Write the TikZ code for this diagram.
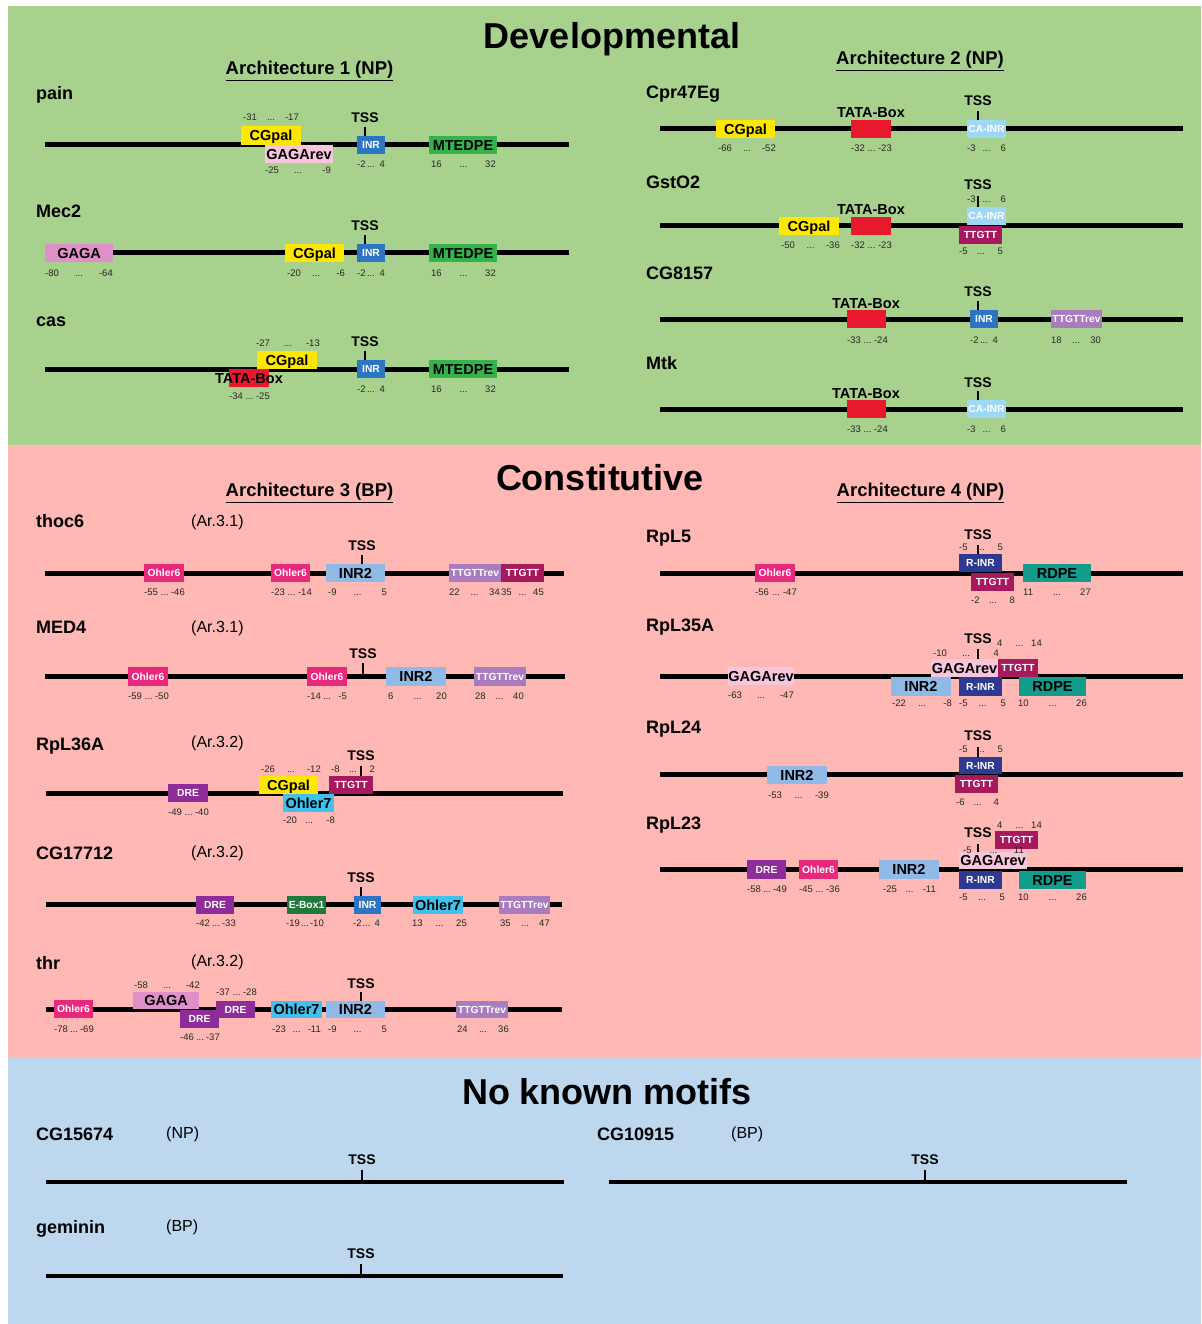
\documentclass[tikz,border=0pt]{standalone}
\usepackage{fontspec}
\setmainfont{Liberation Sans}
\definecolor{bggreen}{HTML}{A9D18E}
\definecolor{bgpink}{HTML}{FFB8B3}
\definecolor{bgblue}{HTML}{BDD7EE}
\definecolor{cgpal}{HTML}{FFE700}
\definecolor{gagarev}{HTML}{F8C6DC}
\definecolor{gaga}{HTML}{E090C8}
\definecolor{inr}{HTML}{2B75C2}
\definecolor{mtedpe}{HTML}{34B34A}
\definecolor{tata}{HTML}{E8192E}
\definecolor{cainr}{HTML}{9ED8F6}
\definecolor{ttgtt}{HTML}{A6195C}
\definecolor{ttgttrev}{HTML}{A97BBF}
\definecolor{ohler6}{HTML}{E8287C}
\definecolor{inr2}{HTML}{8EBAE5}
\definecolor{dre}{HTML}{8E2C9A}
\definecolor{ohler7}{HTML}{3FC3EE}
\definecolor{ebox}{HTML}{1F7A3C}
\definecolor{rinr}{HTML}{2E3991}
\definecolor{rdpe}{HTML}{119C8C}
\newcount\nc
\newcommand\mtf[7]{\global\advance\nc by 1\relax
  \node[mbox, fill=#1, minimum width={(#3-#2)*1pt}, minimum height={(#5-#4)*1pt}] (b\the\nc) at ({(#2+#3)/2},{(#4+#5)/2}) {};
  \node[#6] (t\the\nc) at (b\the\nc.center) {#7};}
\newcommand\rng[5]{\global\advance\nc by 1\relax
  \node[num, anchor=west] (la\the\nc) at (#1,#3) {#4};
  \node[num] (lb\the\nc) at ({(#1+#2)/2},#3) {...};
  \node[num, anchor=east] (lc\the\nc) at (#2,#3) {#5};}
\newcommand\tss[4]{\global\advance\nc by 1\relax
  \draw[tick] (#1,#3) -- (#1,#2);
  \node[tsslbl] (s\the\nc) at (#1,#4) {TSS};}
\newcommand\dna[3]{\draw[dnaline] (#1,#3) -- (#2,#3);}
\begin{document}
\begin{tikzpicture}[x=1pt,y=-1pt,
  gname/.style={font=\fontsize{18}{18}\selectfont\bfseries, anchor=west, inner sep=0pt, text height=13pt, text depth=0pt},
  arn/.style={font=\fontsize{16}{16}\selectfont, anchor=west, inner sep=0pt, text height=11.5pt, text depth=0pt},
  bigtitle/.style={font=\fontsize{36}{36}\selectfont\bfseries, inner sep=0pt, text height=26pt, text depth=0pt},
  archhead/.style={font=\fontsize{18.5}{18.5}\selectfont\bfseries, inner sep=0pt, text height=13.3pt, text depth=0pt},
  tsslbl/.style={font=\fontsize{14}{14}\selectfont\bfseries, inner sep=0pt, text height=10pt, text depth=0pt},
  num/.style={font=\fontsize{9.5}{9.5}\selectfont, text=black!85, inner sep=0pt, text height=6.8pt, text depth=0pt},
  big/.style={font=\fontsize{14.5}{14.5}\selectfont\bfseries, text=black, inner sep=0pt, text height=10.4pt, text depth=0pt},
  sml/.style={font=\fontsize{10.3}{10.3}\selectfont\bfseries, text=white, inner sep=0pt, text height=7.4pt, text depth=0pt},
  mbox/.style={inner sep=0pt, outer sep=0pt, draw=none},
  dnaline/.style={line width=5pt},
  tick/.style={line width=2pt}]
\useasboundingbox (0,0) rectangle (1201,1324);
\fill[white] (0,0) rectangle (1201,1324);
\fill[bggreen] (8,6) rectangle (1201,445);
\fill[bgpink] (8,445) rectangle (1201,1057);
\fill[bgblue] (8,1057) rectangle (1201,1324);

% ===== Developmental =====
\node[bigtitle] (devtitle) at (612,36) {Developmental};
\node[archhead] (arch1) at (309.5,68) {\underline{Architecture 1 (NP)}};
\node[archhead] (arch2) at (920,58) {\underline{Architecture 2 (NP)}};

% pain
\node[gname] (gpain) at (36,93) {pain};
\dna{45}{569}{145}
\mtf{cgpal}{241}{301}{126}{145}{big}{CGpal}
\mtf{gagarev}{265}{333}{145}{163}{big}{GAGArev}
\mtf{inr}{357}{385}{136}{154}{sml}{INR}
\mtf{mtedpe}{429}{497}{136}{154}{big}{MTEDPE}
\tss{365}{127}{136}{118}
\rng{243}{299}{117}{-31}{-17}
\rng{265}{331}{170}{-25}{-9}
\rng{357}{385}{164}{-2}{4}
\rng{431}{496}{164}{16}{32}

% Mec2
\node[gname] (gmec2) at (36,211) {Mec2};
\dna{45}{569}{253}
\mtf{gaga}{45}{113}{244}{262}{big}{GAGA}
\mtf{cgpal}{285}{344}{244}{262}{big}{CGpal}
\mtf{inr}{357}{385}{244}{262}{sml}{INR}
\mtf{mtedpe}{429}{497}{244}{262}{big}{MTEDPE}
\tss{365}{235}{244}{226}
\rng{45}{113}{273}{-80}{-64}
\rng{287}{345}{273}{-20}{-6}
\rng{357}{385}{273}{-2}{4}
\rng{431}{496}{273}{16}{32}

% cas
\node[gname] (gcas) at (36,320) {cas};
\dna{45}{569}{369}
\mtf{cgpal}{257}{317}{351}{369}{big}{CGpal}
\mtf{tata}{229}{269}{369}{387}{big}{TATA-Box}
\mtf{inr}{357}{385}{360}{378}{sml}{INR}
\mtf{mtedpe}{429}{497}{360}{378}{big}{MTEDPE}
\tss{365}{351}{360}{341}
\rng{256}{320}{343}{-27}{-13}
\rng{229}{270}{396}{-34}{-25}
\rng{357}{385}{389}{-2}{4}
\rng{431}{496}{389}{16}{32}

% Cpr47Eg
\node[gname] (gcpr) at (646,92) {Cpr47Eg};
\dna{660}{1183}{129}
\mtf{cgpal}{716}{775}{120}{138}{big}{CGpal}
\mtf{tata}{851}{891}{120}{138}{big}{}
\node[big] (tb1) at (871,112) {TATA-Box};
\mtf{cainr}{967}{1006}{120}{138}{sml}{CA-INR}
\tss{978}{111}{120}{101}
\rng{718}{776}{148}{-66}{-52}
\rng{851}{892}{148}{-32}{-23}
\rng{967}{1006}{148}{-3}{6}

% GstO2
\node[gname] (ggst) at (646,182) {GstO2};
\dna{660}{1183}{226}
\mtf{cgpal}{779}{839}{217}{235}{big}{CGpal}
\mtf{tata}{851}{891}{217}{235}{big}{}
\node[big] (tb2) at (871,209) {TATA-Box};
\mtf{cainr}{967}{1006}{207}{225}{sml}{CA-INR}
\mtf{ttgtt}{959}{1002}{226}{244}{sml}{TTGTT}
\tss{978}{196}{207}{185}
\rng{967}{1006}{199}{-3}{6}
\rng{959}{1003}{251}{-5}{5}
\rng{781}{840}{245}{-50}{-36}
\rng{851}{892}{245}{-32}{-23}

% CG8157
\node[gname] (gcg8157) at (646,273) {CG8157};
\dna{660}{1183}{319}
\mtf{tata}{847}{886}{310}{328}{big}{}
\node[big] (tb3) at (866,303) {TATA-Box};
\mtf{inr}{970}{998}{310}{328}{sml}{INR}
\mtf{ttgttrev}{1051}{1102}{310}{328}{sml}{TTGTTrev}
\tss{978}{301}{310}{291}
\rng{847}{888}{340}{-33}{-24}
\rng{970}{998}{340}{-2}{4}
\rng{1051}{1101}{340}{18}{30}

% Mtk
\node[gname] (gmtk) at (646,363) {Mtk};
\dna{660}{1183}{409}
\mtf{tata}{847}{886}{400}{418}{big}{}
\node[big] (tb4) at (866,393) {TATA-Box};
\mtf{cainr}{967}{1006}{400}{418}{sml}{CA-INR}
\tss{978}{391}{400}{382}
\rng{847}{888}{429}{-33}{-24}
\rng{967}{1006}{429}{-3}{6}

% ===== Constitutive =====
\node[bigtitle] (contitle) at (600,477) {Constitutive};
\node[archhead] (arch3) at (309.5,490) {\underline{Architecture 3 (BP)}};
\node[archhead] (arch4) at (920.5,490) {\underline{Architecture 4 (NP)}};

% thoc6
\node[gname] (gthoc6) at (36,521) {thoc6};
\node[arn] (athoc6) at (191,521) {(Ar.3.1)};
\dna{45}{564}{573}
\mtf{ohler6}{144}{184}{564}{582}{sml}{Ohler6}
\mtf{ohler6}{271}{310}{564}{582}{sml}{Ohler6}
\mtf{inr2}{326}{385}{564}{582}{big}{INR2}
\mtf{ttgttrev}{449}{501}{564}{582}{sml}{TTGTTrev}
\mtf{ttgtt}{501}{544}{564}{582}{sml}{TTGTT}
\tss{362}{555}{564}{545}
\rng{144}{185}{592}{-55}{-46}
\rng{271}{312}{592}{-23}{-14}
\rng{328}{387}{592}{-9}{5}
\rng{449}{500}{592}{22}{34}
\rng{501}{544}{592}{35}{45}

% MED4
\node[gname] (gmed4) at (36,627) {MED4};
\node[arn] (amed4) at (191,627) {(Ar.3.1)};
\dna{45}{565}{676}
\mtf{ohler6}{128}{168}{667}{686}{sml}{Ohler6}
\mtf{ohler6}{307}{347}{667}{686}{sml}{Ohler6}
\mtf{inr2}{386}{446}{667}{686}{big}{INR2}
\mtf{ttgttrev}{474}{526}{667}{686}{sml}{TTGTTrev}
\tss{363}{663}{674}{653}
\rng{128}{169}{696}{-59}{-50}
\rng{307}{347}{696}{-14}{-5}
\rng{388}{447}{696}{6}{20}
\rng{475}{524}{696}{28}{40}

% RpL36A
\node[gname] (grpl36a) at (36,744) {RpL36A};
\node[arn] (arpl36a) at (191,742) {(Ar.3.2)};
\dna{46}{563}{793}
\mtf{dre}{168}{208}{784}{802}{sml}{DRE}
\mtf{cgpal}{259}{318}{776}{794}{big}{CGpal}
\mtf{ohler7}{283}{334}{794}{812}{big}{Ohler7}
\mtf{ttgtt}{329}{373}{776}{794}{sml}{TTGTT}
\tss{361}{766}{776}{755}
\rng{261}{321}{769}{-26}{-12}
\rng{331}{375}{769}{-8}{2}
\rng{168}{209}{812}{-49}{-40}
\rng{283}{335}{820}{-20}{-8}

% CG17712
\node[gname] (gcg17712) at (36,853) {CG17712};
\node[arn] (acg17712) at (191,852) {(Ar.3.2)};
\dna{46}{562}{904}
\mtf{dre}{196}{234}{896}{914}{sml}{DRE}
\mtf{ebox}{287}{326}{896}{914}{sml}{E-Box1}
\mtf{inr}{354}{381}{896}{914}{sml}{INR}
\mtf{ohler7}{413}{463}{896}{914}{big}{Ohler7}
\mtf{ttgttrev}{499}{550}{896}{914}{sml}{TTGTTrev}
\tss{361}{887}{896}{877}
\rng{196}{236}{923}{-42}{-33}
\rng{286}{324}{923}{-19}{-10}
\rng{353}{380}{923}{-2}{4}
\rng{412}{467}{923}{13}{25}
\rng{500}{550}{923}{35}{47}

% thr
\node[gname] (gthr) at (36,963) {thr};
\node[arn] (athr) at (191,961) {(Ar.3.2)};
\dna{46}{562}{1009}
\rng{134}{200}{985}{-58}{-42}
\mtf{ohler6}{54}{93}{1000}{1018}{sml}{Ohler6}
\mtf{gaga}{133}{199}{992}{1009}{big}{GAGA}
\mtf{dre}{180}{219}{1010}{1028}{sml}{DRE}
\mtf{dre}{216}{255}{1001}{1018}{sml}{DRE}
\mtf{ohler7}{271}{322}{1001}{1018}{big}{Ohler7}
\mtf{inr2}{326}{385}{1001}{1018}{big}{INR2}
\mtf{ttgttrev}{456}{508}{1001}{1018}{sml}{TTGTTrev}
\tss{361}{992}{1001}{983}
\rng{216}{257}{992}{-37}{-28}
\rng{54}{94}{1029}{-78}{-69}
\rng{180}{220}{1037}{-46}{-37}
\rng{272}{321}{1029}{-23}{-11}
\rng{328}{387}{1029}{-9}{5}
\rng{457}{509}{1029}{24}{36}

% RpL5
\node[gname] (grpl5) at (646,536) {RpL5};
\dna{660}{1183}{573}
\mtf{ohler6}{755}{795}{564}{582}{sml}{Ohler6}
\mtf{rinr}{959}{1002}{554}{572}{sml}{R-INR}
\mtf{ttgtt}{971}{1014}{573}{591}{sml}{TTGTT}
\mtf{rdpe}{1023}{1091}{564}{582}{big}{RDPE}
\tss{978}{545}{554}{534}
\rng{959}{1003}{547}{-5}{5}
\rng{755}{797}{592}{-56}{-47}
\rng{971}{1015}{600}{-2}{8}
\rng{1023}{1091}{592}{11}{27}

% RpL35A
\node[gname] (grpl35a) at (646,625) {RpL35A};
\dna{660}{1183}{676}
\mtf{gagarev}{728}{794}{667}{685}{big}{GAGArev}
\mtf{inr2}{891}{951}{677}{696}{big}{INR2}
\mtf{rinr}{959}{1002}{677}{696}{sml}{R-INR}
\mtf{gagarev}{931}{998}{659}{677}{big}{GAGArev}
\mtf{ttgtt}{998}{1038}{659}{677}{sml}{TTGTT}
\mtf{rdpe}{1019}{1086}{677}{696}{big}{RDPE}
\tss{978}{649}{659}{638}
\rng{997}{1042}{643}{4}{14}
\rng{933}{999}{653}{-10}{4}
\rng{728}{794}{695}{-63}{-47}
\rng{892}{952}{703}{-22}{-8}
\rng{959}{1006}{703}{-5}{5}
\rng{1018}{1087}{703}{10}{26}

% RpL24
\node[gname] (grpl24) at (646,727) {RpL24};
\dna{660}{1183}{774}
\mtf{inr2}{767}{827}{766}{784}{big}{INR2}
\mtf{rinr}{959}{1002}{757}{774}{sml}{R-INR}
\mtf{ttgtt}{955}{998}{775}{793}{sml}{TTGTT}
\tss{978}{747}{757}{735}
\rng{959}{1003}{749}{-5}{5}
\rng{768}{829}{795}{-53}{-39}
\rng{956}{999}{802}{-6}{4}

% RpL23
\node[gname] (grpl23) at (646,823) {RpL23};
\dna{660}{1183}{869}
\mtf{dre}{747}{786}{860}{879}{sml}{DRE}
\mtf{ohler6}{799}{838}{860}{879}{sml}{Ohler6}
\mtf{inr2}{879}{939}{860}{879}{big}{INR2}
\mtf{gagarev}{959}{1027}{852}{869}{big}{GAGArev}
\mtf{rinr}{959}{1002}{871}{889}{sml}{R-INR}
\mtf{ttgtt}{995}{1038}{831}{849}{sml}{TTGTT}
\mtf{rdpe}{1019}{1086}{871}{889}{big}{RDPE}
\tss{978}{844}{852}{832}
\rng{963}{1024}{850}{-5}{11}
\rng{997}{1042}{825}{4}{14}
\rng{747}{787}{889}{-58}{-49}
\rng{799}{840}{889}{-45}{-36}
\rng{883}{936}{889}{-25}{-11}
\rng{959}{1005}{897}{-5}{5}
\rng{1018}{1087}{897}{10}{26}

% ===== No known motifs =====
\node[bigtitle] (nktitle) at (607,1091) {No known motifs};
\node[gname] (gcg15674) at (36,1134) {CG15674};
\node[arn] (acg15674) at (166,1133) {(NP)};
\draw[line width=4.5pt] (46,1182) -- (564,1182);
\tss{362}{1170}{1180}{1159}
\node[gname] (gcg10915) at (597,1134) {CG10915};
\node[arn] (acg10915) at (731,1133) {(BP)};
\draw[line width=4.5pt] (609,1182) -- (1127,1182);
\tss{925}{1170}{1180}{1159}
\node[gname] (ggeminin) at (36,1227) {geminin};
\node[arn] (ageminin) at (166,1226) {(BP)};
\draw[line width=4.5pt] (46,1276) -- (563,1276);
\tss{361}{1264}{1274}{1253}
\end{tikzpicture}
\end{document}
